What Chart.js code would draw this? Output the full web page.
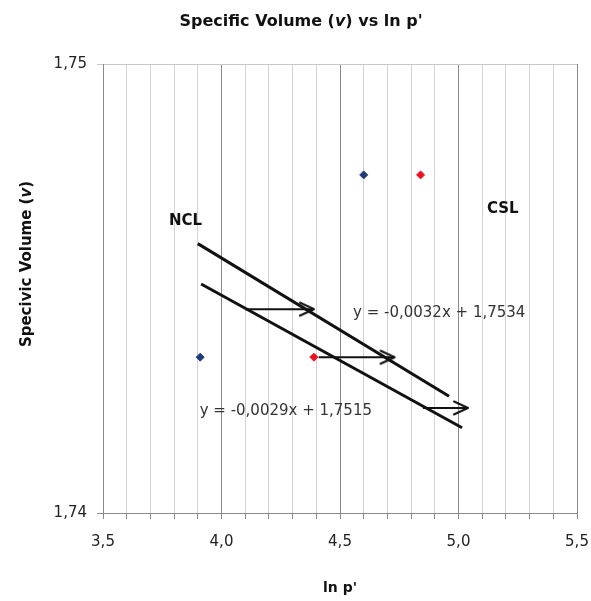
<!DOCTYPE html>
<html>
<head>
<meta charset="utf-8">
<script src="https://cdn.jsdelivr.net/npm/chart.js@4.4.1/dist/chart.umd.min.js"></script>
<style>
  html, body { margin: 0; padding: 0; background: #ffffff; }
  #wrap { width: 591px; height: 601px; }
</style>
</head>
<body>
<div id="wrap"><canvas id="chart" width="591" height="601"></canvas></div>
<script>
// ---------------------------
// Data
// ---------------------------
const xTickLabels = ["3,5", "4,0", "4,5", "5,0", "5,5"];
const yTickLabels = ["1,74", "1,75"];

// measured points (diamonds)
const blueX = [3.91, 4.60];
const blueY = [1.74347, 1.74753];
const redX = [4.39, 4.84];
const redY = [1.74347, 1.74753];

// hand drawn lines (NCL and the lower parallel line)
const nclX = [3.90, 4.96];
const nclY = [1.7460, 1.7426];
const lowerX = [3.914, 5.015];
const lowerY = [1.7451, 1.7419];

// horizontal arrows (start x, end x) and their levels
const arrowStartX = [4.10, 4.41, 4.85];
const arrowEndX = [4.39, 4.73, 5.04];
const arrowY = [1.74454, 1.74347, 1.74234];

// text labels
const eq1 = "y = -0,0032x + 1,7534";
const eq2 = "y = -0,0029x + 1,7515";

// ---------------------------
// helpers
// ---------------------------
const xMin = 3.5, xMax = 5.5, yMin = 1.74, yMax = 1.75;
const xGrid = [];
for (let i = 0; i <= 20; i++) xGrid.push(+(xMin + i * 0.1).toFixed(1));

function isMajor(v) {
  return Math.abs(v * 2 - Math.round(v * 2)) < 1e-6;
}

function pts(xs, ys) {
  return xs.map((x, i) => ({ x: x, y: ys[i] }));
}

// open ">" arrow head as a canvas point style
function makeArrowHead() {
  const c = document.createElement("canvas");
  c.width = 40; c.height = 40;
  const g = c.getContext("2d");
  g.strokeStyle = "#111";
  g.lineWidth = 2;
  g.lineCap = "round";
  g.lineJoin = "round";
  g.beginPath();
  g.moveTo(20 - 14, 20 - 6.5);
  g.lineTo(20, 20);
  g.lineTo(20 - 14, 20 + 6.5);
  g.stroke();
  return c;
}
const arrowHead = makeArrowHead();

// draw text made of several runs (bold / italic)
function drawRich(ctx, parts, x, y, align, size, family) {
  const fontOf = p => (p.italic ? "italic " : "") + (p.bold ? "bold " : "") + size + "px " + family;
  let total = 0;
  parts.forEach(p => { ctx.font = fontOf(p); total += ctx.measureText(p.t).width; });
  let cx = align === "center" ? x - total / 2 : (align === "right" ? x - total : x);
  ctx.textAlign = "left";
  ctx.textBaseline = "middle";
  parts.forEach(p => {
    ctx.font = fontOf(p);
    ctx.fillText(p.t, cx, y);
    cx += ctx.measureText(p.t).width;
  });
}

// ---------------------------
// datasets
// ---------------------------
const lineStyle = {
  showLine: true,
  borderColor: "#111111",
  borderWidth: 3,
  pointRadius: 0,
  fill: false,
  tension: 0,
};

const datasets = [
  Object.assign({ label: "NCL", data: pts(nclX, nclY) }, lineStyle),
  Object.assign({ label: "lower", data: pts(lowerX, lowerY) }, lineStyle),
];

arrowStartX.forEach((sx, i) => {
  datasets.push({
    label: "arrow" + i,
    data: [{ x: sx, y: arrowY[i] }, { x: arrowEndX[i], y: arrowY[i] }],
    showLine: true,
    borderColor: "#111111",
    borderWidth: 2,
    fill: false,
    pointStyle: c => (c.dataIndex === 1 ? arrowHead : "circle"),
    pointRadius: c => (c.dataIndex === 1 ? 6 : 0),
  });
});

datasets.push({
  label: "blue",
  data: pts(blueX, blueY),
  pointStyle: "rectRot",
  pointRadius: 4,
  backgroundColor: "#1f3c78",
  borderColor: "#1f3c78",
  borderWidth: 1,
});
datasets.push({
  label: "red",
  data: pts(redX, redY),
  pointStyle: "rectRot",
  pointRadius: 4,
  backgroundColor: "#ee1122",
  borderColor: "#ee1122",
  borderWidth: 1,
});

// ---------------------------
// titles and free text
// ---------------------------
const textPlugin = {
  id: "textPlugin",
  afterDraw(chart) {
    const ctx = chart.ctx;
    const xs = chart.scales.x, ys = chart.scales.y;
    ctx.save();
    ctx.fillStyle = "#111";

    // chart title
    drawRich(ctx, [
      { t: "Specific Volume (", bold: true },
      { t: "v", bold: true, italic: true },
      { t: ") vs ln p'", bold: true },
    ], 301, 22, "center", 16, "'DejaVu Sans'");

    // x axis title
    drawRich(ctx, [{ t: "ln p'", bold: true }], (xs.left + xs.right) / 2, 588, "center", 14, "'DejaVu Sans'");

    // y axis title (rotated)
    ctx.save();
    ctx.translate(27, 264);
    ctx.rotate(-Math.PI / 2);
    drawRich(ctx, [
      { t: "Specivic Volume (", bold: true },
      { t: "v", bold: true, italic: true },
      { t: ")", bold: true },
    ], 0, 0, "center", 15, "'DejaVu Sans'");
    ctx.restore();

    // NCL / CSL
    drawRich(ctx, [{ t: "NCL", bold: true }], xs.getPixelForValue(3.778), ys.getPixelForValue(1.7465), "left", 15, "'DejaVu Sans'");
    drawRich(ctx, [{ t: "CSL", bold: true }], xs.getPixelForValue(5.12), ys.getPixelForValue(1.74677), "left", 15, "'DejaVu Sans'");

    // trend line equations
    ctx.fillStyle = "#333";
    drawRich(ctx, [{ t: eq1 }], xs.getPixelForValue(4.555), ys.getPixelForValue(1.74445), "left", 15, "'DejaVu Sans'");
    drawRich(ctx, [{ t: eq2 }], xs.getPixelForValue(4.635), ys.getPixelForValue(1.74227), "right", 15, "'DejaVu Sans'");
    ctx.restore();
  },
};

// ---------------------------
// chart
// ---------------------------
const tickFont = { family: "'DejaVu Sans'", size: 15 };

new Chart(document.getElementById("chart").getContext("2d"), {
  type: "scatter",
  data: { datasets: datasets },
  options: {
    responsive: false,
    animation: false,
    layout: { padding: { top: 64, right: 14, left: 0, bottom: 0 } },
    plugins: { legend: { display: false }, tooltip: { enabled: false } },
    scales: {
      x: {
        type: "linear",
        min: xMin,
        max: xMax,
        afterBuildTicks: s => { s.ticks = xGrid.map(v => ({ value: v })); },
        afterFit: s => { s.height = 88; s.paddingLeft = 0; s.paddingRight = 0; },
        border: { color: "#8a8a8a", width: 1 },
        grid: {
          color: c => (isMajor(c.tick.value) ? "#8a8a8a" : "#d2d2d2"),
          tickColor: "#8a8a8a",
          tickLength: 6,
          lineWidth: 1,
        },
        ticks: {
          autoSkip: false,
          maxRotation: 0,
          padding: 14,
          color: "#222",
          font: tickFont,
          callback: v => (isMajor(v) ? xTickLabels[Math.round((v - xMin) * 2)] : ""),
        },
      },
      y: {
        type: "linear",
        min: yMin,
        max: yMax,
        afterBuildTicks: s => { s.ticks = [{ value: yMin }, { value: yMax }]; },
        afterFit: s => { s.width = 103; s.paddingTop = 0; s.paddingBottom = 0; },
        border: { color: "#8a8a8a", width: 1 },
        grid: {
          color: c => (c.tick.value === yMax ? "#c8c8c8" : "rgba(0,0,0,0)"),
          tickColor: c => (c.tick.value === yMax ? "#c8c8c8" : "#8a8a8a"),
          tickLength: 6,
        },
        ticks: {
          padding: 10,
          color: "#222",
          font: tickFont,
          callback: v => yTickLabels[Math.round((v - yMin) * 100)],
        },
      },
    },
  },
  plugins: [textPlugin],
});
</script>
</body>
</html>
